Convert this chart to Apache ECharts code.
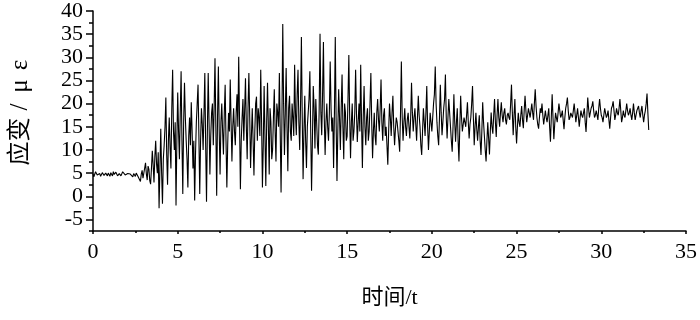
<!DOCTYPE html>
<html>
<head>
<meta charset="utf-8">
<script src="https://cdn.jsdelivr.net/npm/echarts@6/dist/echarts.min.js"></script>
<style>html,body{margin:0;padding:0;background:#fff}#c{width:700px;height:320px}</style>
</head>
<body>
<div id="c"></div>
<script>
// time step of the recorded samples (s); sample i is at t = i * timeStep
var timeStep = 0.1;
// strain readings (με) at t = 0.0, 0.1, ... 32.8
var strain = [
 4.8,4.5,5.1,4.3,4.9,4.6,5.2,4.4,4.7,5.0,
 4.3,4.8,5.3,4.5,4.9,4.2,5.0,4.7,5.4,4.6,
 4.4,5.1,4.8,4.5,4.9,4.3,4.6,4.4,3.2,5.6,
 4.0,7.2,3.5,5.8,2.6,9.8,3.0,12.0,5.0,-2.6,
 14.6,-1.6,11.0,21.3,2.5,17.0,6.0,27.3,10.0,-2.0,
 22.4,8.0,27.0,0.5,24.5,12.0,1.9,17.0,20.3,6.0,
 -0.9,16.0,24.1,0.5,19.0,10.0,26.6,-1.2,26.6,4.7,
 18.0,11.0,29.8,0.1,28.0,4.7,20.0,9.0,24.1,1.9,
 18.0,25.2,7.5,19.0,11.0,22.0,30.1,1.5,17.0,12.0,
 25.5,8.0,26.6,6.1,19.0,4.5,20.0,12.0,17.0,27.3,
 1.9,23.8,2.2,24.5,4.7,16.0,10.0,23.1,7.5,18.0,
 26.6,0.8,37.2,8.9,27.7,5.4,21.7,12.0,17.0,28.4,
 13.2,27.3,10.0,34.4,3.7,21.7,6.1,18.0,27.0,1.2,
 23.8,10.3,16.0,9.0,35.1,13.2,33.3,8.9,20.0,12.0,
 29.1,14.0,6.1,34.4,3.3,23.1,10.0,26.3,8.0,18.0,
 13.0,30.5,8.2,20.0,14.0,27.3,11.7,20.0,28.4,6.1,
 23.8,11.0,19.0,14.0,26.6,8.2,18.0,11.0,21.0,14.0,
 25.2,12.0,19.0,15.0,6.8,20.0,13.0,21.7,11.0,17.0,
 14.0,9.6,29.1,12.0,19.0,13.0,18.0,12.5,24.5,14.0,
 19.0,12.0,21.7,15.0,8.9,19.0,13.0,23.8,10.0,18.0,
 14.0,20.0,28.0,16.0,11.0,24.1,13.2,19.0,26.3,12.5,
 21.0,15.0,9.6,22.0,11.8,19.0,7.5,21.7,14.0,17.0,
 15.0,20.3,12.5,17.0,23.8,11.0,18.0,12.0,17.5,8.9,
 20.3,13.0,7.5,16.0,9.0,18.1,13.5,21.0,12.8,21.0,
 15.0,20.3,16.0,19.0,15.5,18.0,16.5,24.1,13.2,21.0,
 11.4,18.0,15.0,19.5,14.7,21.7,16.0,19.0,17.0,20.0,
 16.5,23.1,17.0,14.6,19.0,20.0,15.5,18.5,16.0,19.0,
 11.8,22.0,12.3,18.0,16.0,20.0,17.0,18.5,14.5,19.0,
 21.3,16.5,18.0,17.0,20.0,16.0,19.0,15.0,18.5,17.0,
 19.0,13.9,21.3,17.0,19.0,20.5,17.0,18.5,16.5,21.0,
 17.5,16.0,19.0,17.0,18.5,14.6,19.0,20.5,16.5,19.0,
 17.5,21.0,16.0,18.5,17.0,20.0,17.5,19.0,16.5,20.0,
 16.5,18.5,19.5,17.0,19.5,16.0,18.5,22.2,14.3
];
// strain readings (με) at the half steps t = 0.05, 0.15, ... 32.75
var strainMid = [
 4.2,5.3,4.6,5.0,4.3,5.1,4.5,5.0,4.4,4.6,
 5.1,4.4,4.7,5.2,4.4,4.9,4.4,5.3,4.9,4.2,
 4.9,4.5,5.2,4.2,4.7,5.0,4.3,4.0,4.8,3.9,
 6.1,4.8,6.5,3.4,6.0,6.8,8.5,7.0,9.5,6.0,
 5.0,8.0,15.0,9.0,12.0,10.5,19.0,14.0,16.0,12.0,
 14.0,18.0,12.0,16.0,17.0,8.0,13.0,11.0,14.0,12.0,
 9.0,20.0,13.0,12.0,15.5,18.0,11.0,14.0,16.0,13.0,
 20.0,19.0,15.0,17.0,14.0,16.0,14.0,18.0,12.0,11.0,
 14.0,16.0,15.0,14.0,18.0,15.0,16.0,12.0,21.0,18.5,
 15.0,19.0,17.0,13.0,12.0,14.0,21.5,19.0,13.0,16.0,
 11.0,13.0,16.0,15.0,19.0,8.0,17.0,14.0,20.0,15.0,
 14.0,16.0,20.0,18.0,15.0,19.0,14.0,20.0,13.0,18.0,
 22.0,16.0,20.0,17.0,14.0,12.0,15.0,21.0,14.0,12.0,
 19.0,21.0,11.0,19.0,18.0,22.0,17.0,16.0,15.0,18.0,
 19.0,17.0,18.0,16.0,14.0,17.0,19.0,15.0,20.0,12.0,
 21.0,17.0,16.0,12.0,18.0,18.0,16.0,14.0,16.0,17.0,
 15.0,17.0,12.0,20.0,16.0,14.0,13.0,18.0,16.5,19.0,
 16.0,17.5,13.0,11.0,14.0,17.0,18.0,15.0,14.5,16.0,
 12.0,18.0,17.0,16.0,15.0,16.5,15.0,17.0,18.0,17.0,
 15.5,17.0,17.5,11.0,14.0,16.0,18.0,15.0,14.0,16.0,
 17.0,22.0,20.0,13.0,17.0,18.0,16.0,21.0,17.0,17.0,
 18.0,12.0,15.0,16.0,16.0,12.0,15.0,17.0,15.5,16.0,
 17.5,16.0,15.5,20.0,17.0,15.0,14.5,15.0,12.0,14.0,
 16.0,10.0,12.0,12.5,14.0,15.0,17.5,16.0,17.5,17.0,
 18.0,17.5,18.0,16.5,17.5,17.0,20.0,18.0,17.5,15.0,
 15.0,16.0,17.5,16.5,18.5,18.5,17.5,18.0,18.5,18.0,
 20.0,19.5,15.5,17.0,18.0,17.5,17.0,17.0,17.5,15.0,
 17.0,17.0,15.5,17.0,18.0,18.5,17.5,16.5,17.0,20.0,
 18.5,17.0,17.5,18.5,18.0,17.5,17.0,17.0,17.5,18.0,
 16.0,17.5,19.0,18.0,19.5,18.5,17.5,17.5,19.0,19.0,
 17.0,17.5,18.0,17.5,16.5,17.0,19.5,18.5,17.5,18.0,
 19.0,18.5,17.0,17.5,18.5,18.5,18.0,17.5,18.0,18.0,
 17.5,19.0,18.0,18.5,17.5,17.5,20.0,18.0
];
// axis tick values
var xTicks = [0, 5, 10, 15, 20, 25, 30, 35];
var yMajorTicks = [-5, 0, 5, 10, 15, 20, 25, 30, 35, 40];
var yMinorTicks = [-7.5, -2.5, 2.5, 7.5, 12.5, 17.5, 22.5, 27.5, 32.5, 37.5];
var xName = '时间/t';
var yName = '应变/με';

var seriesData = [];
for (var i = 0; i < strain.length; i++) {
  var t = Math.round(i * timeStep * 100) / 100;
  seriesData.push([t, strain[i]]);
  if (i < strainMid.length) seriesData.push([Math.round((t + timeStep / 2) * 100) / 100, strainMid[i]]);
}

var fontLatin = "'Liberation Serif', 'Times New Roman', 'Noto Sans CJK SC', serif";
// y-axis name: CJK glyphs in full cells, the Latin/Greek part slightly narrower cells
var yNameRich = yName.split('').map(function (ch) {
  return (/[\u4e00-\u9fff]/.test(ch) ? '{w|' : '{n|') + ch + '}';
}).join('');

var chart = echarts.init(document.getElementById('c'), null, {renderer: 'canvas'});
chart.setOption({
  animation: false,
  backgroundColor: '#fff',
  grid: {left: 91, right: 14, top: 7, bottom: 89},
  xAxis: {
    type: 'value', min: 0, max: 35, interval: 5,
    name: xName, nameLocation: 'middle', nameGap: 56,
    nameTextStyle: {fontFamily: fontLatin, fontSize: 22, color: '#000'},
    axisLine: {onZero: false, lineStyle: {color: '#000', width: 1.5}},
    axisTick: {inside: false, length: 3, lineStyle: {color: '#000', width: 1.5}},
    minorTick: {show: true, splitNumber: 2, length: 2, lineStyle: {color: '#000', width: 1.5}},
    axisLabel: {fontFamily: fontLatin, fontSize: 22, color: '#000', margin: 10,
      customValues: xTicks},
    splitLine: {show: false}
  },
  yAxis: [{
    type: 'value', min: -7.5, max: 40,
    name: yNameRich, nameLocation: 'middle', nameGap: 60, nameRotate: 90,
    nameTextStyle: {fontFamily: fontLatin, fontSize: 24, color: '#000', padding: [0, 0, 0, 22],
      rich: {
        w: {fontFamily: fontLatin, fontSize: 24, color: '#000', width: 24, align: 'center'},
        n: {fontFamily: fontLatin, fontSize: 25, color: '#000', width: 21, align: 'center'}
      }},
    axisLine: {onZero: false, lineStyle: {color: '#000', width: 1.5}},
    axisTick: {inside: false, length: 7, customValues: yMajorTicks, lineStyle: {color: '#000', width: 1.5}},
    axisLabel: {fontFamily: fontLatin, fontSize: 22, color: '#000', margin: 10,
      customValues: yMajorTicks},
    splitLine: {show: false}
  }, {
    type: 'value', min: -7.5, max: 40, position: 'left',
    axisLine: {show: false},
    axisTick: {show: true, inside: false, length: 4, customValues: yMinorTicks, lineStyle: {color: '#000', width: 1.5}},
    axisLabel: {show: false},
    splitLine: {show: false}
  }],
  series: [{
    type: 'line', data: seriesData, yAxisIndex: 0,
    showSymbol: false, symbol: 'none',
    lineStyle: {color: '#000', width: 1.1},
    silent: true
  }]
});
</script>
</body>
</html>
